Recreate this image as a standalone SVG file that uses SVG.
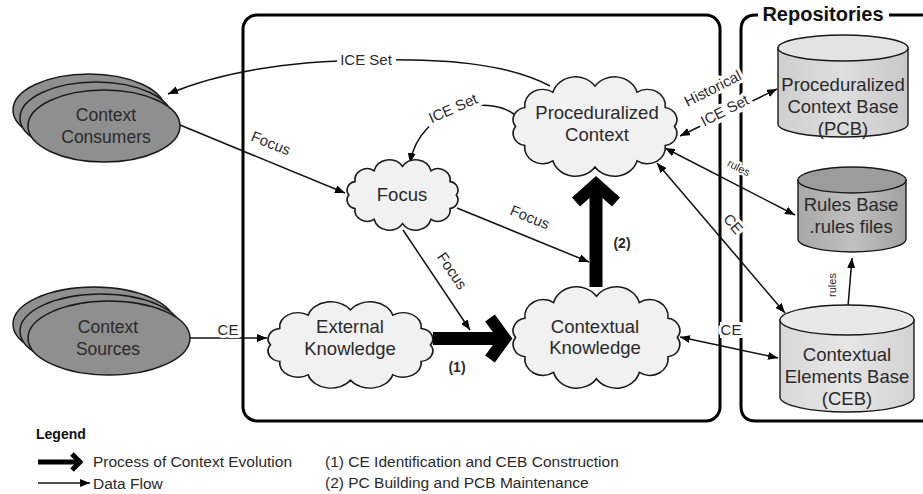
<svg xmlns="http://www.w3.org/2000/svg" width="923" height="494" viewBox="0 0 923 494">
<defs>
<style>
text{font-family:"Liberation Sans",Arial,sans-serif;fill:#2a2a2a}
.n{font-size:18.5px;text-anchor:middle}
.e{font-size:17.5px;text-anchor:middle}
.l{font-size:15px;text-anchor:middle;paint-order:stroke;stroke:#fff;stroke-width:6px;stroke-linejoin:round}
.s{font-size:11px;text-anchor:middle;paint-order:stroke;stroke:#fff;stroke-width:4px;stroke-linejoin:round}
.lg{font-size:15.5px}
.ell{fill:#8f8f8f;stroke:#1a1a1a;stroke-width:1.5}
.cloud{fill:#f1f1f1;stroke:#1a1a1a}
.cyl{stroke:#1a1a1a;stroke-width:1.4}
.c{fill:none;stroke:#111;stroke-width:1.5}
.thick{fill:none;stroke:#000;stroke-width:13}
.chev{fill:none;stroke:#000;stroke-width:12;stroke-linejoin:miter;stroke-miterlimit:10}
.frame{fill:none;stroke:#000;stroke-width:3}
.bg{fill:#fff}
</style>
<marker id="ah" markerWidth="10" markerHeight="8" refX="10" refY="4" orient="auto-start-reverse" markerUnits="userSpaceOnUse">
<path d="M0,0 L10,4 L0,8 Z" fill="#000"/>
</marker>
<path id="cl" d="M94,30 A7.5,7.5 0 0 1 88.9,41.7 A10,10 0 0 1 73.3,51.2 A13,13 0 0 1 50,55 A13,13 0 0 1 26.7,51.2 A10,10 0 0 1 11.1,41.7 A7.5,7.5 0 0 1 6,30 A7.5,7.5 0 0 1 11.1,18.3 A10,10 0 0 1 26.7,8.8 A13,13 0 0 1 50,5 A13,13 0 0 1 73.3,8.8 A10,10 0 0 1 88.9,18.3 A7.5,7.5 0 0 1 94,30 Z"/>
<linearGradient id="gPcb" x1="0" x2="1" y1="0" y2="0">
<stop offset="0" stop-color="#cfcfcf"/><stop offset="0.5" stop-color="#dedede"/><stop offset="1" stop-color="#c8c8c8"/>
</linearGradient>
<linearGradient id="gRb" x1="0" x2="1" y1="0" y2="0">
<stop offset="0" stop-color="#a8a8a8"/><stop offset="0.5" stop-color="#c0c0c0"/><stop offset="1" stop-color="#a2a2a2"/>
</linearGradient>
<linearGradient id="gCeb" x1="0" x2="1" y1="0" y2="0">
<stop offset="0" stop-color="#d8d8d8"/><stop offset="0.5" stop-color="#e6e6e6"/><stop offset="1" stop-color="#d2d2d2"/>
</linearGradient>
</defs>
<rect width="923" height="494" fill="#fff"/>

<!-- frames -->
<g id="main-frame">
<rect class="frame" x="243" y="15" width="477" height="406" rx="14"/>
</g>
<g id="repositories-frame">
<path class="frame" d="M758,15 H756 Q741,15 741,30 V406 Q741,421 756,421 H923"/>
<path class="frame" d="M889,15 H923"/>
<text x="823" y="21" font-size="20" font-weight="bold" text-anchor="middle" style="fill:#111">Repositories</text>
</g>

<!-- connectors -->
<g id="connectors">
<path class="c" d="M550,86 C505,62 440,59 370,60 C290,61 220,72 168,94" marker-end="url(#ah)"/>
<path class="c" d="M518,118 C495,92 420,105 410,163" marker-end="url(#ah)"/>
<path class="c" d="M180,125 L345,193" marker-end="url(#ah)"/>
<path class="c" d="M457,208 L589,262" marker-end="url(#ah)"/>
<path class="c" d="M403,230 L470,330" marker-end="url(#ah)"/>
<path class="c" d="M190,338 L267,338" marker-end="url(#ah)"/>
<path class="c" d="M680,136 L777,89" marker-start="url(#ah)" marker-end="url(#ah)"/>
<path class="c" d="M665,148 L795,215" marker-start="url(#ah)" marker-end="url(#ah)"/>
<path class="c" d="M657,163 L785,313" marker-start="url(#ah)" marker-end="url(#ah)"/>
<path class="c" d="M680,337 L778,358" marker-start="url(#ah)" marker-end="url(#ah)"/>
<path class="c" d="M852,258 L847,318" marker-start="url(#ah)" marker-end="url(#ah)"/>
<!-- thick process arrows -->
<path class="thick" d="M433,338.5 H506"/>
<polyline class="chev" points="490,318 505,338.5 490,359"/>
<path class="thick" d="M596,287 V186"/>
<polyline class="chev" points="576,202 596,184 616,202"/>
<!-- label backgrounds -->
<rect class="bg" x="337" y="52" width="59" height="16"/>
<rect class="bg" x="-29" y="-12" width="58" height="16" transform="translate(455,113) rotate(-24)"/>
<rect class="bg" x="-29" y="-12" width="58" height="16" transform="translate(727,115) rotate(-27)"/>
<rect class="bg" x="720" y="322" width="22" height="16"/>
<!-- labels -->
<text class="l" x="366" y="65">ICE Set</text>
<text class="l" transform="translate(455,113) rotate(-24)">ICE Set</text>
<text class="l" transform="translate(269,148) rotate(22)">Focus</text>
<text class="l" transform="translate(528,222) rotate(22)">Focus</text>
<text class="l" transform="translate(452,271) rotate(56)" dy="5">Focus</text>
<text class="l" x="228" y="335">CE</text>
<text class="l" transform="translate(715,93) rotate(-27)">Historical</text>
<text class="l" transform="translate(727,115) rotate(-27)">ICE Set</text>
<text class="s" transform="translate(737,171) rotate(27)">rules</text>
<text class="l" transform="translate(733,224) rotate(50)" dy="5">CE</text>
<text class="l" x="731" y="335">CE</text>
<text class="s" transform="translate(836,285) rotate(-90)">rules</text>
<text x="457" y="372" font-size="14" font-weight="bold" text-anchor="middle">(1)</text>
<text x="622" y="248" font-size="14" font-weight="bold" text-anchor="middle">(2)</text>
</g>

<!-- nodes -->
<g id="context-consumers">
<ellipse class="ell" cx="89" cy="110" rx="76" ry="36"/>
<ellipse class="ell" cx="96" cy="118" rx="76" ry="36"/>
<ellipse class="ell" cx="104" cy="126" rx="76" ry="36"/>
<text class="e" x="106" y="121">Context</text>
<text class="e" x="106" y="143">Consumers</text>
</g>
<g id="context-sources">
<ellipse class="ell" cx="94" cy="324" rx="81" ry="37"/>
<ellipse class="ell" cx="101" cy="331" rx="81" ry="37"/>
<ellipse class="ell" cx="109" cy="338" rx="81" ry="37"/>
<text class="e" x="108" y="333">Context</text>
<text class="e" x="108" y="355">Sources</text>
</g>
<g id="focus">
<use href="#cl" class="cloud" transform="translate(341.4,160.7) scale(1.2225,1.1438)" style="stroke-width:1.35"/>
<text class="n" x="402" y="201">Focus</text>
</g>
<g id="external-knowledge">
<use href="#cl" class="cloud" transform="translate(259.6,302.8) scale(1.817,1.405)" style="stroke-width:0.95"/>
<text class="n" x="350" y="333">External</text>
<text class="n" x="350" y="355">Knowledge</text>
</g>
<g id="contextual-knowledge">
<use href="#cl" class="cloud" transform="translate(504.5,288) scale(1.839,1.65)" style="stroke-width:0.9"/>
<text class="n" x="595" y="333">Contextual</text>
<text class="n" x="595" y="354">Knowledge</text>
</g>
<g id="proceduralized-context">
<use href="#cl" class="cloud" transform="translate(504.7,78) scale(1.806,1.618)" style="stroke-width:0.9"/>
<text class="n" x="597" y="119">Proceduralized</text>
<text class="n" x="597" y="141">Context</text>
</g>
<g id="pcb">
<path class="cyl" fill="url(#gPcb)" d="M778,48 V124 A65,13 0 0 0 908,124 V48 Z"/>
<ellipse class="cyl" cx="843" cy="48" rx="65" ry="13" fill="#e3e3e3"/>
<text class="n" x="843" y="91">Proceduralized</text>
<text class="n" x="843" y="113">Context Base</text>
<text class="n" x="843" y="135">(PCB)</text>
</g>
<g id="rules-base">
<path class="cyl" fill="url(#gRb)" d="M798,180 V239 A54,13 0 0 0 906,239 V180 Z"/>
<ellipse class="cyl" cx="852" cy="180" rx="54" ry="13" fill="#9c9c9c"/>
<text class="n" x="851" y="211">Rules Base</text>
<text class="n" x="851" y="233">.rules files</text>
</g>
<g id="ceb">
<path class="cyl" fill="url(#gCeb)" d="M780,320 V397 A67,15 0 0 0 914,397 V320 Z"/>
<ellipse class="cyl" cx="847" cy="320" rx="67" ry="15" fill="#e8e8e8"/>
<text class="n" x="847" y="361">Contextual</text>
<text class="n" x="847" y="383">Elements Base</text>
<text class="n" x="847" y="405">(CEB)</text>
</g>

<!-- legend -->
<g id="legend">
<text x="36" y="439" font-size="14" font-weight="bold" style="fill:#111">Legend</text>
<path d="M38,462 H76" stroke="#000" stroke-width="5" fill="none"/>
<polyline points="72,454 80,462 72,470" fill="none" stroke="#000" stroke-width="5" stroke-linejoin="miter"/>
<text class="lg" x="93" y="467">Process of Context Evolution</text>
<path class="c" d="M38,483 H90" marker-end="url(#ah)"/>
<text class="lg" x="93" y="489">Data Flow</text>
<text class="lg" x="325" y="467">(1) CE Identification and CEB Construction</text>
<text class="lg" x="325" y="488">(2) PC Building and PCB Maintenance</text>
</g>
</svg>
